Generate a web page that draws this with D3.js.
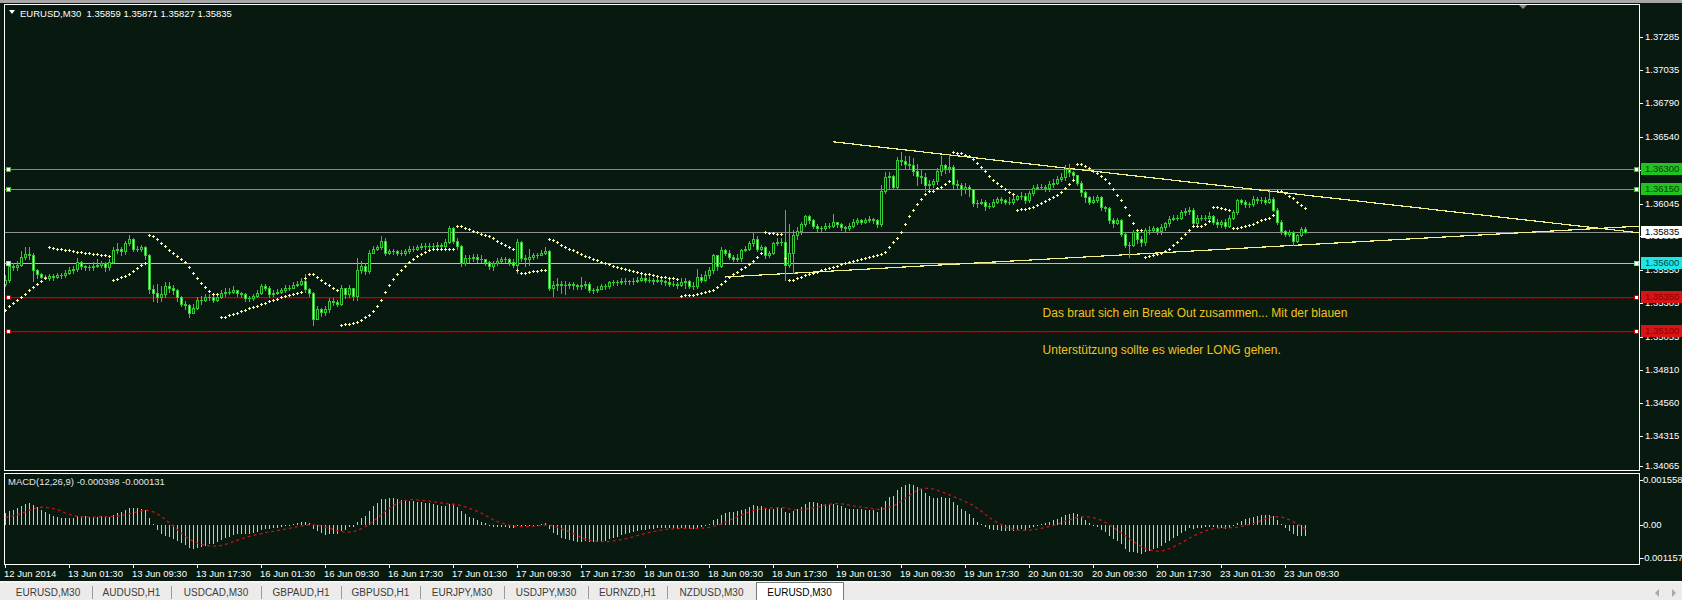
<!DOCTYPE html>
<html><head><meta charset="utf-8">
<script src="https://cdn.jsdelivr.net/npm/d3@7"></script>
<style>
html,body{margin:0;padding:0;background:#08190f;overflow:hidden}
svg{display:block}
text{font-family:"Liberation Sans",Arial,sans-serif}
</style></head><body>
<svg id="c" width="1682" height="600"></svg>
<script>
// ---------------- DATA ----------------
const BASE = 1.35;            // prices below are in pips above BASE
const openFirstPips = 45;
const closePips = [
48,58,57,59,65,67,66,55,52,50,
49,50.5,50,51,51,53,55,56,61,58,
57,57,58,59,60,57,61,70,71,69,
75,78,71,71,72,66,41,38,35,37,
43,42,40,35,30,29,23,27,33,33,
35,35,33,35,38,39,39,40,38,37,
34,34,36,38,43,42,37,38,39,40,
42,42,44,45,47,41,38,19,26,24,
26,32,31,30,42,37,42,36,55,58,
54,68,71,72,77,68,69,69,68,68,
69,71,71,72,73,73,73,73,74,73,
76,86,77,73,60,64,64,65,63,63,
61,58,60,62,63,63,61,59,76,64,
63,65,66,66,68,69,42,44,45,44,
44,45,44,43,44,45,40,40,41,43,
43,46,46,46,47,47,47,47,48,49,
48,48,47,48,47,46,45,45,44,46,
47,43,43,50,48,51,55,66,58,70,
68,65,63,64,70,71,75,78,71,72,
66,68,75,76,76,59,68,81,84,89,
95,92,88,86,86,88,88,91,89,87,
86,88,91,92,91,92,93,92,89,114,
124,125,117,137,136,134,133,129,125,124,
118,119,121,129,133,131,132,119,118,115,
117,115,105,105,106,103,103,106,108,107,
106,106,108,110,110,107,112,116,117,117,
116,119,120,123,124,130,128,126,120,113,
109,106,107,109,102,101,92,90,92,82,
74,74,83,78,76,85,85,86,84,87,
90,93,94,94,98,99,100,90,94,94,
94,95,91,89,91,88,94,98,107,106,
104,104,108,107,107,106,108,100,91,84,
82,83,77,81,85.9,83.5];
const highPips = [
51,60,60,62,69,72,72,68,56,53,
51,52,52,53,53,55,57,58,64,62,
59,59,61,63,62,61,63,72,75,72,
77,81,79,73,74,73,67,44,45,43,
46,46,44,41,36,32,30,30,35,36,
37,37,37,37,40,42,42,43,40,39,
38,36,37,40,45,45,43,40,41,42,
44,44,46,47,49,52,42,39,28,27,
28,34,34,33,44,40,44,40,64,62,
60,70,73,74,80,79,71,71,70,70,
71,73,73,74,75,75,75,75,76,75,
78,88,87,79,74,66,66,67,67,66,
63,62,62,64,65,65,64,63,78,77,
66,71,68,68,70,72,70,47,49,47,
47,46,46,45,50,47,46,42,43,45,
45,47,48,48,49,49,48,49,50,52,
51,50,49,50,49,48,48,47,46,49,
49,48,46,56,52,54,57,67,66,72,
71,70,66,67,71,73,77,83,80,74,
73,69,76,79,79,100,89,85,87,91,
96,96,93,89,88,90,90,97,91,90,
88,90,93,94,93,94,95,94,93,118,
128,128,126,139,143,140,140,138,134,130,
127,122,123,131,140,134,141,133,122,120,
120,118,115,107,108,107,105,108,109,109,
108,109,110,111,113,112,114,118,119,119,
118,121,123,125,127,133,134,129,126,121,
114,110,110,111,110,103,102,94,94,93,
83,76,85,84,80,86,88,88,87,89,
91,95,96,96,100,101,102,101,96,96,
96,98,96,93,92,93,96,100,108,108,
107,106,110,109,109,109,114,109,101,92,
85,85,84,82,87,87.1];
const lowPips = [
43,46,55,55,58,63,63,47,49,49,
49.2,48,48,49,49,50,52,53,54,56,
55,55,55,57,57,54,55,60,68,66,
67,74,69,69,69,63,38,32,31,32,
35,39,37,32,28,26,20,23,26,30,
32,33,31,32,34,36,37,38,36,35,
32,32,33,35,37,40,35,36,37,38,
39,40,42,43,44,39,36,14,19,21,
22,24,29,28,29,34,35,33,33,53,
52,53,68,70,71,66,67,67,66,66,
66,68,69,70,71,71,71,71,72,71,
71,75,75,71,58,59,61,62,61,61,
59,56,55,59,61,61,59,57,53,62,
58,59,63,64,66,67,40,36,40,38,
37,42,41,41,41,42,39,38,39,41,
41,42,44,44,45,45,45,45,46,47,
46,46,45,46,45,44,43,43,42,43,
42,42,41,42,46,47,49,53,55,57,
66,63,62,62,62,69,70,73,69,70,
64,65,67,74,74,48,57,53,78,82,
88,90,86,84,84,85,86,87,87,85,
84,85,87,89,89,90,91,90,87,88,
112,116,115,115,133,130,130,126,118,120,
114,116,117,119,126,127,128,115,115,111,
112,110,103,102,104,100,101,102,105,105,
104,104,104,107,108,105,106,111,115,115,
114,114,117,119,121,122,125,123,118,110,
106,104,105,106,100,99,90,87,89,80,
72,65,73,75,73,74,82,83,82,82,
85,88,92,92,93,96,97,88,89,92,
92,93,89,87,87,86,87,93,97,104,
102,102,103,105,105,104,105,99,89,82,
80,80,74,76,80,82.7];

const timeLabels = ["12 Jun 2014","13 Jun 01:30","13 Jun 09:30","13 Jun 17:30","16 Jun 01:30","16 Jun 09:30","16 Jun 17:30","17 Jun 01:30","17 Jun 09:30","17 Jun 17:30","18 Jun 01:30","18 Jun 09:30","18 Jun 17:30","19 Jun 01:30","19 Jun 09:30","19 Jun 17:30","20 Jun 01:30","20 Jun 09:30","20 Jun 17:30","23 Jun 01:30","23 Jun 09:30"];
const timeLabelBars = [0,16,32,48,64,80,96,112,128,144,160,176,192,208,224,240,256,272,288,304,320];
const priceTicks = [1.37285,1.37035,1.36790,1.36540,1.36295,1.36045,1.35800,1.35550,1.35305,1.35055,1.34810,1.34560,1.34315,1.34065];
const levelPrices = [1.36300,1.36150,1.35835,1.35600,1.35350,1.35100];
const levelKinds  = ["green","green2","bid","cyan","red","red"];
const trendUpper = [[207,1.36504],[331.25,1.36087]];
const trendLower = [[180,1.35499],[331.25,1.35749]];
const sarSeed = {up:true, sar:25.3, ep:70, af:0.06};          // pips
const macdSeed = {fast:1.35440, slow:1.35400, signal:0.00025};
const macdTicks = [0.001558,0,-0.001157];
const macdTickLabels = ["0.001558","0.00","-0.001157"];
const headerText = "EURUSD,M30  1.35859 1.35871 1.35827 1.35835";
const macdText = "MACD(12,26,9) -0.000398 -0.000131";
const notes = ["Das braut sich ein Break Out zusammen... Mit der blauen","Unterstützung sollte es wieder LONG gehen."];
const noteAnchors = [[259.4,1.35268],[259.4,1.34993]];
const tabNames = ["EURUSD,M30","AUDUSD,H1","USDCAD,M30","GBPAUD,H1","GBPUSD,H1","EURJPY,M30","USDJPY,M30","EURNZD,H1","NZDUSD,M30","EURUSD,M30"];

// ---------------- LAYOUT ----------------
const BG = "#08190f";
const svg = d3.select("#c");
const L = 5, R = 1639, T = 5, B = 470, MT = 474, MB = 564;
const x = d3.scaleLinear().domain([0, 408.5]).range([L, R]);
const y = d3.scaleLinear().domain([1.34064, 1.37521]).range([B, T]);
const ym = d3.scaleLinear().domain([macdTicks[2], macdTicks[0]]).range([558.4, 480]);
const P = v => BASE + v / 10000;

svg.append("rect").attr("width",1682).attr("height",600).attr("fill",BG);
svg.append("rect").attr("width",1682).attr("height",3).attr("fill","#a8a8a8");

const defs = svg.append("defs");
defs.append("clipPath").attr("id","cm").append("rect").attr("x",L).attr("y",T).attr("width",R-L).attr("height",B-T);
defs.append("clipPath").attr("id","cd").append("rect").attr("x",L).attr("y",MT).attr("width",R-L).attr("height",MB-MT);

const main = svg.append("g").attr("clip-path","url(#cm)");
const macdG = svg.append("g").attr("clip-path","url(#cd)");

// bars
const bars = closePips.map((c,i)=>{
  const o = i ? closePips[i-1] : openFirstPips;
  return {i, o, c, h: Math.max(highPips[i], o, c), l: Math.min(lowPips[i], o, c)};
});

// horizontal levels
const levelStyle = {
  green:  {line:"#52ad3e", box:"#1fc41f", text:"#0c3d0c", w:1},
  green2: {line:"#3ec42a", box:"#1fc41f", text:"#0c3d0c", w:1},
  bid:    {line:"#929292", box:"#ffffff", text:"#000000", w:1},
  cyan:   {line:"#8fd8b0", box:"#1fe6e6", text:"#064646", w:1},
  red:    {line:"#c80000", box:"#d81414", text:"#8a0000", w:1}
};
levelPrices.forEach((p,k)=>{
  const st = levelStyle[levelKinds[k]];
  const yy = Math.round(y(p)) + 0.5;
  main.append("line").attr("x1",L).attr("x2",R).attr("y1",yy).attr("y2",yy)
    .attr("stroke",st.line).attr("stroke-width",1);
  if (levelKinds[k]==="red") {
    main.append("line").attr("x1",L).attr("x2",R).attr("y1",yy+1).attr("y2",yy+1)
      .attr("stroke","#6a0000").attr("stroke-width",1).attr("stroke-dasharray","2,1");
  }
});

// trend lines (rays)
function ray(a, b, col){
  const slope = (b[1]-a[1])/(b[0]-a[0]);
  const endBar = x.invert(R+2);
  main.append("line")
    .attr("x1",x(a[0])).attr("y1",y(a[1]))
    .attr("x2",x(endBar)).attr("y2",y(a[1] + slope*(endBar-a[0])))
    .attr("stroke",col).attr("stroke-width",1.2).attr("shape-rendering","crispEdges");
}
ray(trendUpper[0], trendUpper[1], "#f2ee8a");
ray(trendLower[0], trendLower[1], "#f2ee8a");

// candles
const CG = "#35c935";
const cg = main.append("g");
bars.forEach(d=>{
  const cx = Math.round(x(d.i));
  const yh = Math.round(y(P(d.h))), yl = Math.round(y(P(d.l)));
  cg.append("rect").attr("x",cx).attr("y",yh).attr("width",1).attr("height",Math.max(1,yl-yh+1)).attr("fill",CG);
  const top = Math.round(y(P(Math.max(d.o,d.c)))), bot = Math.round(y(P(Math.min(d.o,d.c))));
  const hh = bot - top + 1;
  cg.append("rect").attr("x",cx-1).attr("y",top).attr("width",3).attr("height",hh).attr("fill",CG);
  if (hh > 2) {
    cg.append("rect").attr("x",cx).attr("y",top+1).attr("width",1).attr("height",hh-2)
      .attr("fill", d.c >= d.o ? BG : "#c8f7c0");
  }
});

// Parabolic SAR (computed from highs/lows)
function computeSAR(H, Lo, s){
  const out=[]; let up=s.up, sar=s.sar, ep=s.ep, af=s.af; const step=0.02, mx=0.2;
  for(let i=0;i<H.length;i++){
    if(i>0){
      sar = sar + af*(ep - sar);
      if(up){
        sar = Math.min(sar, Lo[i-1], i>1?Lo[i-2]:Lo[i-1]);
        if(Lo[i] < sar){ up=false; sar=ep; ep=Lo[i]; af=step; }
        else if(H[i] > ep){ ep=H[i]; af=Math.min(af+step,mx); }
      } else {
        sar = Math.max(sar, H[i-1], i>1?H[i-2]:H[i-1]);
        if(H[i] > sar){ up=true; sar=ep; ep=H[i]; af=step; }
        else if(Lo[i] < ep){ ep=Lo[i]; af=Math.min(af+step,mx); }
      }
    }
    out.push(sar);
  }
  return out;
}
const sar = computeSAR(bars.map(d=>d.h), bars.map(d=>d.l), sarSeed);
const sg = main.append("g").attr("fill","#f6f1a8");
sar.forEach((v,i)=>{
  const cx = Math.round(x(i)), yy = Math.round(y(P(v)));
  sg.append("rect").attr("x",cx-1).attr("y",yy).attr("width",3).attr("height",1);
  sg.append("rect").attr("x",cx).attr("y",yy-1).attr("width",1).attr("height",3);
});

// level handles (drawn over candles)
levelPrices.forEach((p,k)=>{
  if (levelKinds[k]==="bid") return;
  const st = levelStyle[levelKinds[k]];
  const yy = Math.round(y(p));
  [L+1, R-5].forEach(hx=>{
    svg.append("rect").attr("x",hx+0.5).attr("y",yy-2+0.5).attr("width",4).attr("height",4)
      .attr("fill","#ffffff").attr("stroke",st.line).attr("stroke-width",1);
  });
});

// annotations
notes.forEach((t,k)=>{
  svg.append("text").attr("x",x(noteAnchors[k][0])).attr("y",y(noteAnchors[k][1]))
    .attr("dominant-baseline","hanging").attr("font-size",12).attr("fill","#f0c31c").text(t);
});

// MACD (computed from closes)
const closes = closePips.map(P);
let ef = macdSeed.fast, es = macdSeed.slow;
const macdMain = closes.map(c=>{ ef += (2/13)*(c-ef); es += (2/27)*(c-es); return ef-es; });
const macdSignal = macdMain.map((v,i)=>{
  let s=0; for(let k=i-8;k<=i;k++) s += k>=0 ? macdMain[k] : macdSeed.signal; return s/9;
});
const y0 = Math.round(ym(0));
macdMain.forEach((v,i)=>{
  const cx = Math.round(x(i)), yy = Math.round(ym(v));
  macdG.append("rect").attr("x",cx).attr("y",Math.min(yy,y0)).attr("width",1)
    .attr("height",Math.max(1,Math.abs(yy-y0))).attr("fill","#c8c8c8");
});
macdG.append("path").datum(macdSignal)
  .attr("d", d3.line().x((d,i)=>Math.round(x(i))+0.5).y(d=>ym(d)))
  .attr("fill","none").attr("stroke","#c01414").attr("stroke-width",1.3).attr("stroke-dasharray","3,3");

// frames
svg.append("rect").attr("x",4.5).attr("y",4.5).attr("width",R-4).attr("height",B-4)
  .attr("fill","none").attr("stroke","#ffffff").attr("stroke-width",1);
svg.append("rect").attr("x",4.5).attr("y",473.5).attr("width",R-4).attr("height",MB-473)
  .attr("fill","none").attr("stroke","#ffffff").attr("stroke-width",1);

// price axis
const ax = svg.append("g");
priceTicks.forEach(p=>{
  const yy = Math.min(Math.round(y(p)), 466);
  ax.append("line").attr("x1",R+1).attr("x2",R+4).attr("y1",yy+0.5).attr("y2",yy+0.5).attr("stroke","#ffffff");
  ax.append("text").attr("x",R+6).attr("y",yy).attr("dominant-baseline","middle")
    .attr("font-size",9.5).attr("fill","#ffffff").text(p.toFixed(5));
});
// level boxes on axis
levelPrices.forEach((p,k)=>{
  const st = levelStyle[levelKinds[k]];
  const yy = Math.round(y(p));
  ax.append("rect").attr("x",R+2).attr("y",yy-6).attr("width",1682-R-2).attr("height",12).attr("fill",st.box);
  ax.append("text").attr("x",R+6).attr("y",yy+0.5).attr("dominant-baseline","middle")
    .attr("font-size",9.5).attr("fill",st.text).text(p.toFixed(5));
});

// MACD axis
macdTicks.forEach((v,k)=>{
  const yy = Math.round(ym(v));
  ax.append("line").attr("x1",R+1).attr("x2",R+4).attr("y1",yy+0.5).attr("y2",yy+0.5).attr("stroke","#ffffff");
  ax.append("text").attr("x", v<0 ? R+2 : R+4).attr("y",yy).attr("dominant-baseline","middle")
    .attr("font-size",9.5).attr("fill","#ffffff").text(macdTickLabels[k]);
});

// time axis
timeLabels.forEach((t,k)=>{
  const tx = Math.round(x(timeLabelBars[k]));
  ax.append("line").attr("x1",tx+0.5).attr("x2",tx+0.5).attr("y1",MB).attr("y2",MB+4).attr("stroke","#ffffff");
  ax.append("text").attr("x",tx-1).attr("y",577).attr("font-size",9.5).attr("fill","#ffffff").text(t);
});

// header texts
svg.append("path").attr("d","M9,10 L15,10 L12,14 Z").attr("fill","#ffffff");
svg.append("text").attr("x",20).attr("y",17).attr("font-size",9.5).attr("fill","#ffffff")
  .attr("xml:space","preserve").style("white-space","pre").text(headerText);
svg.append("text").attr("x",8).attr("y",485).attr("font-size",9.5).attr("fill","#e6e6e6").text(macdText);
// chart-shift marker
svg.append("path").attr("d","M1519,5 L1527,5 L1523,9 Z").attr("fill","#8c8c8c");

// tab bar
const tb = svg.append("g");
tb.append("rect").attr("x",0).attr("y",581).attr("width",1682).attr("height",2).attr("fill","#f4f4f4");
tb.append("rect").attr("x",0).attr("y",583).attr("width",1682).attr("height",17).attr("fill","#ecebea");
const seps = [4,92,171,261,341,420,504,588,667,756,843];
tabNames.forEach((n,k)=>{
  const a = seps[k], b = seps[k+1], active = k===tabNames.length-1;
  if (active){
    tb.append("rect").attr("x",a+0.5).attr("y",582.5).attr("width",b-a).attr("height",18)
      .attr("fill","#ffffff").attr("stroke","#7a7a7a");
  } else if (k>0) {
    tb.append("line").attr("x1",a+0.5).attr("x2",a+0.5).attr("y1",586).attr("y2",599).attr("stroke","#9a9a9a");
  }
  tb.append("text").attr("x",(a+b)/2).attr("y",596).attr("text-anchor","middle")
    .attr("font-size",10).attr("fill", active?"#000000":"#3c3c3c").text(n);
});
tb.append("path").attr("d","M1659,589 L1659,597 L1655,593 Z").attr("fill","#a8a8a8");
tb.append("path").attr("d","M1672,589 L1672,597 L1676,593 Z").attr("fill","#a8a8a8");
</script>
</body></html>
